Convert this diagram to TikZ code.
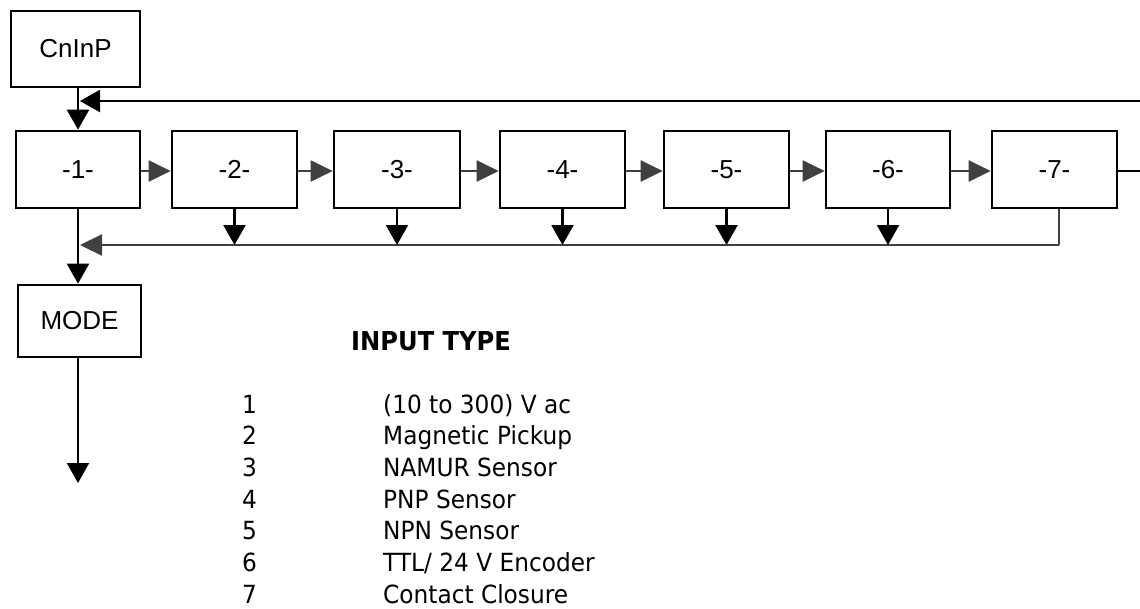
\documentclass[tikz,border=0pt]{standalone}
\usepackage{fontspec}
\setmainfont{Liberation Sans}
\newfontfamily\tah[FakeStretch=0.93]{DejaVu Sans}
\usetikzlibrary{arrows.meta}
\definecolor{lgray}{HTML}{404040}
\tikzset{
  box/.style={draw=black, line width=2.7pt, rectangle, inner sep=0pt,
    font=\fontsize{26}{30}\selectfont},
  blk/.style={draw=black, line width=2.2pt, -{Triangle[width=22pt,length=20pt]}},
  gry/.style={draw=lgray, line width=2.2pt, -{Triangle[width=21pt,length=22pt]}, color=lgray},
  gryline/.style={draw=lgray, line width=2.2pt},
  lst/.style={anchor=base west, inner sep=0pt, font=\tah\fontsize{25}{30}\selectfont},
}
\begin{document}
\begin{tikzpicture}[x=1pt,y=-1pt]
\useasboundingbox (0,0) rectangle (1140,608);
\clip (0,0) rectangle (1140,608);
\fill[white] (0,0) rectangle (1140,608);

\node[box, minimum width=129pt, minimum height=76pt] (cn) at (75.5,49) {CnInP};
\node[box, minimum width=124pt, minimum height=77pt] (b1) at (78,169.5) {-1-};
\node[box, minimum width=125pt, minimum height=77pt] (b2) at (234.5,169.5) {-2-};
\node[box, minimum width=126pt, minimum height=77pt] (b3) at (397,169.5) {-3-};
\node[box, minimum width=125pt, minimum height=77pt] (b4) at (562.5,169.5) {-4-};
\node[box, minimum width=125pt, minimum height=77pt] (b5) at (726.5,169.5) {-5-};
\node[box, minimum width=124pt, minimum height=77pt] (b6) at (888,169.5) {-6-};
\node[box, minimum width=125pt, minimum height=77pt] (b7) at (1054.5,169.5) {-7-};
\node[box, minimum width=123pt, minimum height=72pt] (mode) at (79.5,321) {MODE};

% top entry
\draw[blk] (b1.north |- cn.south) -- (b1.north);
% horizontal chain
\draw[gry] ([yshift=-1.5pt]b1.east) -- ([yshift=-1.5pt]b2.west);
\draw[gry] ([yshift=-1.5pt]b2.east) -- ([yshift=-1.5pt]b3.west);
\draw[gry] ([yshift=-1.5pt]b3.east) -- ([yshift=-1.5pt]b4.west);
\draw[gry] ([yshift=-1.5pt]b4.east) -- ([yshift=-1.5pt]b5.west);
\draw[gry] ([yshift=-1.5pt]b5.east) -- ([yshift=-1.5pt]b6.west);
\draw[gry] ([yshift=-1.5pt]b6.east) -- ([yshift=-1.5pt]b7.west);
% loop back from -7- to top
\coordinate (loopend) at (80,101);
\draw[blk] ([yshift=-1.5pt]b7.east) -- (1160,171) -- (1160,101) -- (loopend);

% feedback line
\coordinate (fb) at (80,245);
\coordinate (fr) at (1059,245);
\draw[gryline] ([xshift=4.5pt]b7.south) -- (fr);
\draw[gry] (fr) -- (fb);
\draw[blk] (b2.south) -- (b2.south |- fb);
\draw[blk] (b3.south) -- (b3.south |- fb);
\draw[blk] (b4.south) -- (b4.south |- fb);
\draw[blk] (b5.south) -- (b5.south |- fb);
\draw[blk] (b6.south) -- (b6.south |- fb);

% down to MODE and beyond
\draw[blk] (b1.south) -- (b1.south |- mode.north);
\coordinate (out) at (78,483);
\draw[blk] (b1.south |- mode.south) -- (out);

% legend
\node[lst, font=\tah\bfseries\fontsize{26}{30}\selectfont] (title) at (351,350) {INPUT TYPE};
\foreach \n/\t [count=\i from 0] in {1/{(10 to 300) V ac}, 2/{Magnetic Pickup}, 3/{NAMUR Sensor}, 4/{PNP Sensor}, 5/{NPN Sensor}, 6/{TTL/ 24 V Encoder}, 7/{Contact Closure}}{
  \node[lst] (n\n) at (242,413+31.67*\i) {\n};
  \node[lst] (t\n) at (383,413+31.67*\i) {\t};
}
\end{tikzpicture}
\end{document}
